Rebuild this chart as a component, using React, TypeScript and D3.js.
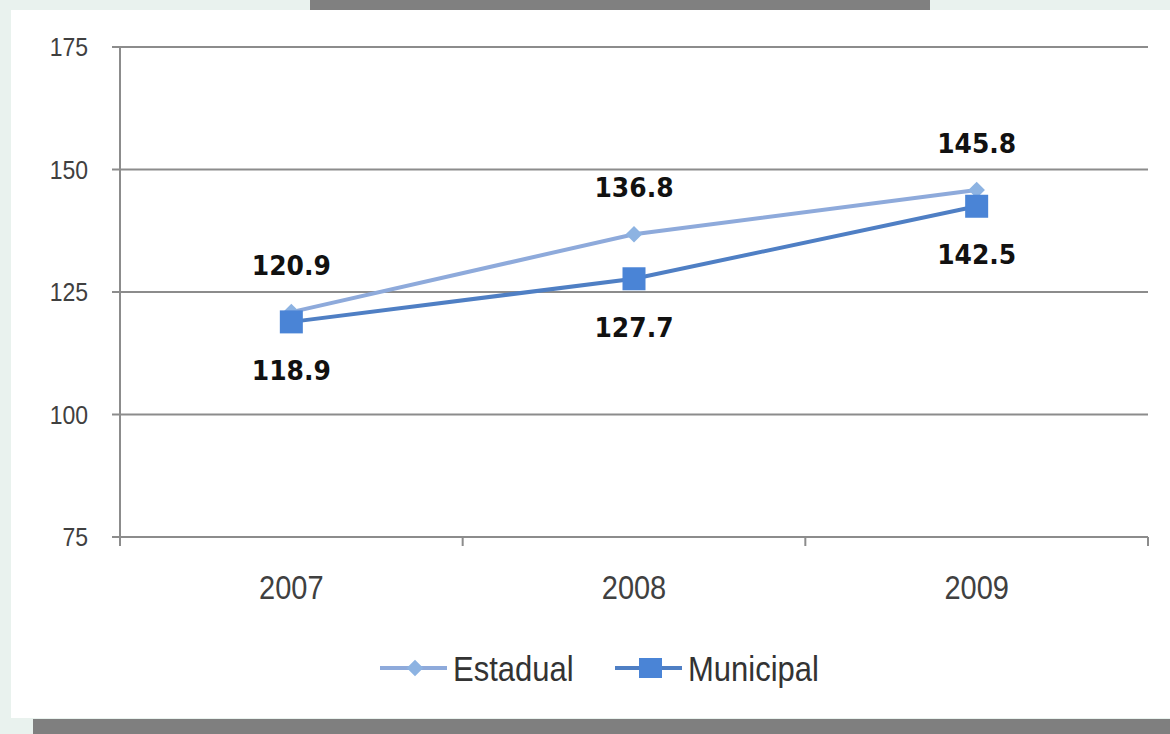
import * as d3 from 'd3';
import React, { useEffect, useRef } from "react";

const years = ['2007', '2008', '2009'];
const estadual = [120.9, 136.8, 145.8];
const municipal = [118.9, 127.7, 142.5];
const yTicks = [75, 100, 125, 150, 175];
const seriesNames = ['Estadual', 'Municipal'];

// the source picture is a little stretched vertically, so text gets scaled in y
const STRETCH = 1.14;
const place = (x: number, y: number) => `translate(${x}, ${y}) scale(1, ${STRETCH})`;

const LineChart: React.FC = () => {
    const ref = useRef<SVGSVGElement>(null);

    useEffect(() => {
        if (!ref.current) return;
        const width = 1170;
        const height = 734;

        const svg = d3.select(ref.current)
            .attr('width', width)
            .attr('height', height);
        svg.selectAll('*').remove();

        // page frame
        svg.append('rect').attr('width', width).attr('height', height).attr('fill', '#e9f2ee');
        svg.append('rect').attr('x', 11).attr('y', 10).attr('width', width - 11).attr('height', 708).attr('fill', '#ffffff');
        svg.append('rect').attr('x', 310).attr('y', 0).attr('width', 620).attr('height', 10).attr('fill', '#808080');
        svg.append('rect').attr('x', 33).attr('y', 719).attr('width', width - 33).attr('height', 15).attr('fill', '#7f7f7f');

        const x = d3.scaleBand().domain(years).range([120, 1148]).paddingInner(0).paddingOuter(0);
        const y = d3.scaleLinear().domain([75, 175]).range([537, 47]);
        const cx = (d: string) => (x(d) ?? 0) + x.bandwidth() / 2;

        // gridlines
        svg.append('g')
            .selectAll('line')
            .data(yTicks)
            .enter()
            .append('line')
            .attr('x1', 112)
            .attr('x2', 1148)
            .attr('y1', d => y(d))
            .attr('y2', d => y(d))
            .attr('stroke', '#8c8c8c')
            .attr('stroke-width', 2);

        // y axis line
        svg.append('line')
            .attr('x1', 120).attr('x2', 120)
            .attr('y1', y(175)).attr('y2', y(75))
            .attr('stroke', '#8c8c8c').attr('stroke-width', 2);

        // x ticks at band edges
        const edges = years.map(d => x(d) ?? 0).concat([x.range()[1]]);
        svg.append('g')
            .selectAll('line')
            .data(edges)
            .enter()
            .append('line')
            .attr('x1', d => d).attr('x2', d => d)
            .attr('y1', y(75)).attr('y2', y(75) + 9)
            .attr('stroke', '#8c8c8c').attr('stroke-width', 2);

        // y labels
        svg.append('g')
            .selectAll('text')
            .data(yTicks)
            .enter()
            .append('text')
            .attr('transform', d => place(88, y(d) + 9))
            .attr('text-anchor', 'end')
            .attr('font-family', 'Liberation Sans, Arial, sans-serif')
            .attr('font-size', 23)
            .attr('fill', '#404040')
            .text(d => d);

        // x labels
        svg.append('g')
            .selectAll('text')
            .data(years)
            .enter()
            .append('text')
            .attr('transform', d => place(cx(d), 599))
            .attr('text-anchor', 'middle')
            .attr('font-family', 'Liberation Sans, Arial, sans-serif')
            .attr('font-size', 29)
            .attr('fill', '#404040')
            .text(d => d);

        const line = d3.line<number>()
            .x((_, i) => cx(years[i]))
            .y(d => y(d));

        const diamond = d3.symbol().type(d3.symbolDiamond2).size(175);

        // Estadual
        svg.append('path')
            .attr('d', line(estadual))
            .attr('fill', 'none')
            .attr('stroke', '#8eaadb')
            .attr('stroke-width', 4);
        svg.append('g')
            .selectAll('path')
            .data(estadual)
            .enter()
            .append('path')
            .attr('d', diamond)
            .attr('transform', (d, i) => `translate(${cx(years[i])}, ${y(d)})`)
            .attr('fill', '#8db3e2');

        // Municipal
        svg.append('path')
            .attr('d', line(municipal))
            .attr('fill', 'none')
            .attr('stroke', '#4f7fc4')
            .attr('stroke-width', 4);
        svg.append('g')
            .selectAll('rect')
            .data(municipal)
            .enter()
            .append('rect')
            .attr('x', (_, i) => cx(years[i]) - 11.5)
            .attr('y', d => y(d) - 11.5)
            .attr('width', 23)
            .attr('height', 23)
            .attr('fill', '#4a84d6');

        // data labels
        const labelFont = 'DejaVu Sans, Verdana, sans-serif';
        svg.append('g')
            .selectAll('text')
            .data(estadual)
            .enter()
            .append('text')
            .attr('transform', (d, i) => `translate(${cx(years[i])}, ${y(d) - 37}) scale(1, 1.05)`)
            .attr('text-anchor', 'middle')
            .attr('font-family', labelFont)
            .attr('font-weight', 'bold')
            .attr('font-size', 25)
            .attr('fill', '#111')
            .text(d => d.toFixed(1));
        svg.append('g')
            .selectAll('text')
            .data(municipal)
            .enter()
            .append('text')
            .attr('transform', (d, i) => `translate(${cx(years[i])}, ${y(d) + 58}) scale(1, 1.05)`)
            .attr('text-anchor', 'middle')
            .attr('font-family', labelFont)
            .attr('font-weight', 'bold')
            .attr('font-size', 25)
            .attr('fill', '#111')
            .text(d => d.toFixed(1));

        // legend
        const legend = svg.append('g').attr('transform', 'translate(380, 668)');
        const e = legend.append('g');
        e.append('line').attr('x1', 0).attr('x2', 67).attr('y1', 0).attr('y2', 0)
            .attr('stroke', '#8eaadb').attr('stroke-width', 4);
        e.append('path').attr('d', diamond).attr('transform', 'translate(35, 0)').attr('fill', '#8db3e2');
        e.append('text').attr('transform', place(73, 13))
            .attr('font-family', 'Liberation Sans, Arial, sans-serif').attr('font-size', 31)
            .attr('fill', '#333').text(seriesNames[0]);

        const m = legend.append('g').attr('transform', 'translate(235, 0)');
        m.append('line').attr('x1', 0).attr('x2', 67).attr('y1', 0).attr('y2', 0)
            .attr('stroke', '#4f7fc4').attr('stroke-width', 4);
        m.append('rect').attr('x', 24).attr('y', -10).attr('width', 23).attr('height', 20).attr('fill', '#4a84d6');
        m.append('text').attr('transform', place(73, 13))
            .attr('font-family', 'Liberation Sans, Arial, sans-serif').attr('font-size', 31)
            .attr('fill', '#333').text(seriesNames[1]);
    }, []);

    return (<svg ref={ref} style={{ position: 'absolute', left: 0, top: 0, display: 'block' }}></svg>);
}

export default function App() {
    return <LineChart />;
}
